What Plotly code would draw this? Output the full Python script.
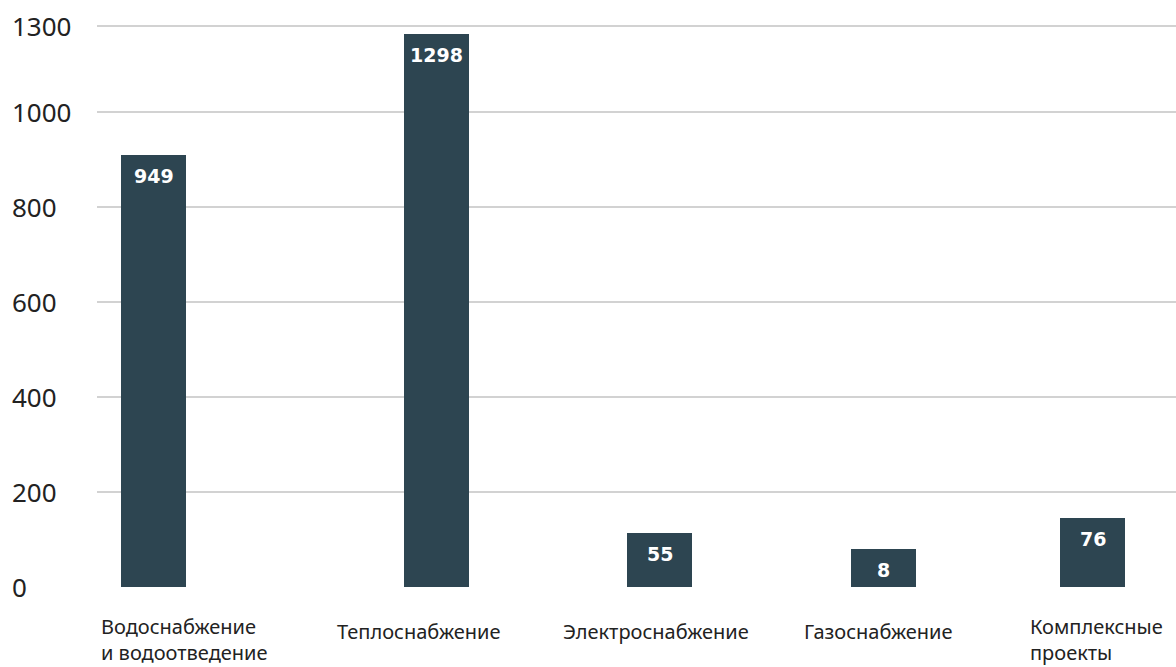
import plotly.graph_objects as go

# ---- data ----
categories = ["Водоснабжение<br>и водоотведение", "Теплоснабжение", "Электроснабжение",
              "Газоснабжение", "Комплексные<br>проекты"]
bar_heights = [909, 1164, 114, 80, 146]          # drawn heights as they appear on the axis
value_labels = ["949", "1298", "55", "8", "76"]   # numbers printed on the bars
tick_values = [0, 200, 400, 600, 800, 1000, 1181]
tick_labels = ["0", "200", "400", "600", "800", "1000", "1300"]

# ---- styling / layout constants ----
BAR_COLOR = "#2d4551"
GRID_COLOR = "#d2d2d2"
SPACING_PX = 234.75
BAR_W = 65 / SPACING_PX
bar_shift_px = [0, 48, 36.5, 25.75, 0]
label_shift_px = [-54.5, -53, -62.5, -56, -65]

xs = list(range(len(categories)))
offsets = [-BAR_W / 2 + s / SPACING_PX for s in bar_shift_px]

fig = go.Figure()
fig.add_trace(go.Bar(
    x=xs, y=bar_heights, width=BAR_W, offset=offsets,
    marker=dict(color=BAR_COLOR, line=dict(width=0)),
    hoverinfo="skip", showlegend=False,
))

annotations = []
# value labels inside bars
for i, (h, t) in enumerate(zip(bar_heights, value_labels)):
    annotations.append(dict(
        x=xs[i], y=h, xref="x", yref="y", text="<b>%s</b>" % t, showarrow=False,
        xanchor="center", yanchor="top", xshift=bar_shift_px[i], yshift=-8,
        font=dict(family="DejaVu Sans", size=19, color="white"),
    ))
# category labels (left aligned, possibly two lines)
for i, cat in enumerate(categories):
    two_lines = "<br>" in cat
    annotations.append(dict(
        x=xs[i], y=0, xref="x", yref="paper", text=cat, showarrow=False,
        xanchor="left", yanchor="top", align="left", xshift=label_shift_px[i],
        yshift=-24 if two_lines else -29,
        font=dict(family="Noto Sans", size=20, color="#222222"),
    ))
# y tick labels (left aligned)
for v, t in zip(tick_values, tick_labels):
    annotations.append(dict(
        x=0, y=v, xref="paper", yref="y", text=t, showarrow=False,
        xanchor="left", yanchor="middle", xshift=-87,
        font=dict(family="Noto Sans", size=26, color="#222222"),
    ))

fig.update_layout(
    width=1176, height=667,
    margin=dict(l=97, r=0, t=17, b=80),
    paper_bgcolor="white", plot_bgcolor="white",
    annotations=annotations,
    bargap=0,
)
fig.update_xaxes(
    range=[-56.5 / SPACING_PX, -56.5 / SPACING_PX + 1079 / SPACING_PX],
    showgrid=False, zeroline=False, showticklabels=False, showline=False, ticks="",
)
fig.update_yaxes(
    range=[0, 1200], tickmode="array", tickvals=tick_values, ticktext=tick_labels,
    showticklabels=False, showgrid=True, gridcolor=GRID_COLOR, gridwidth=2,
    zeroline=False, showline=False, ticks="",
)

fig.write_html("out.html")
